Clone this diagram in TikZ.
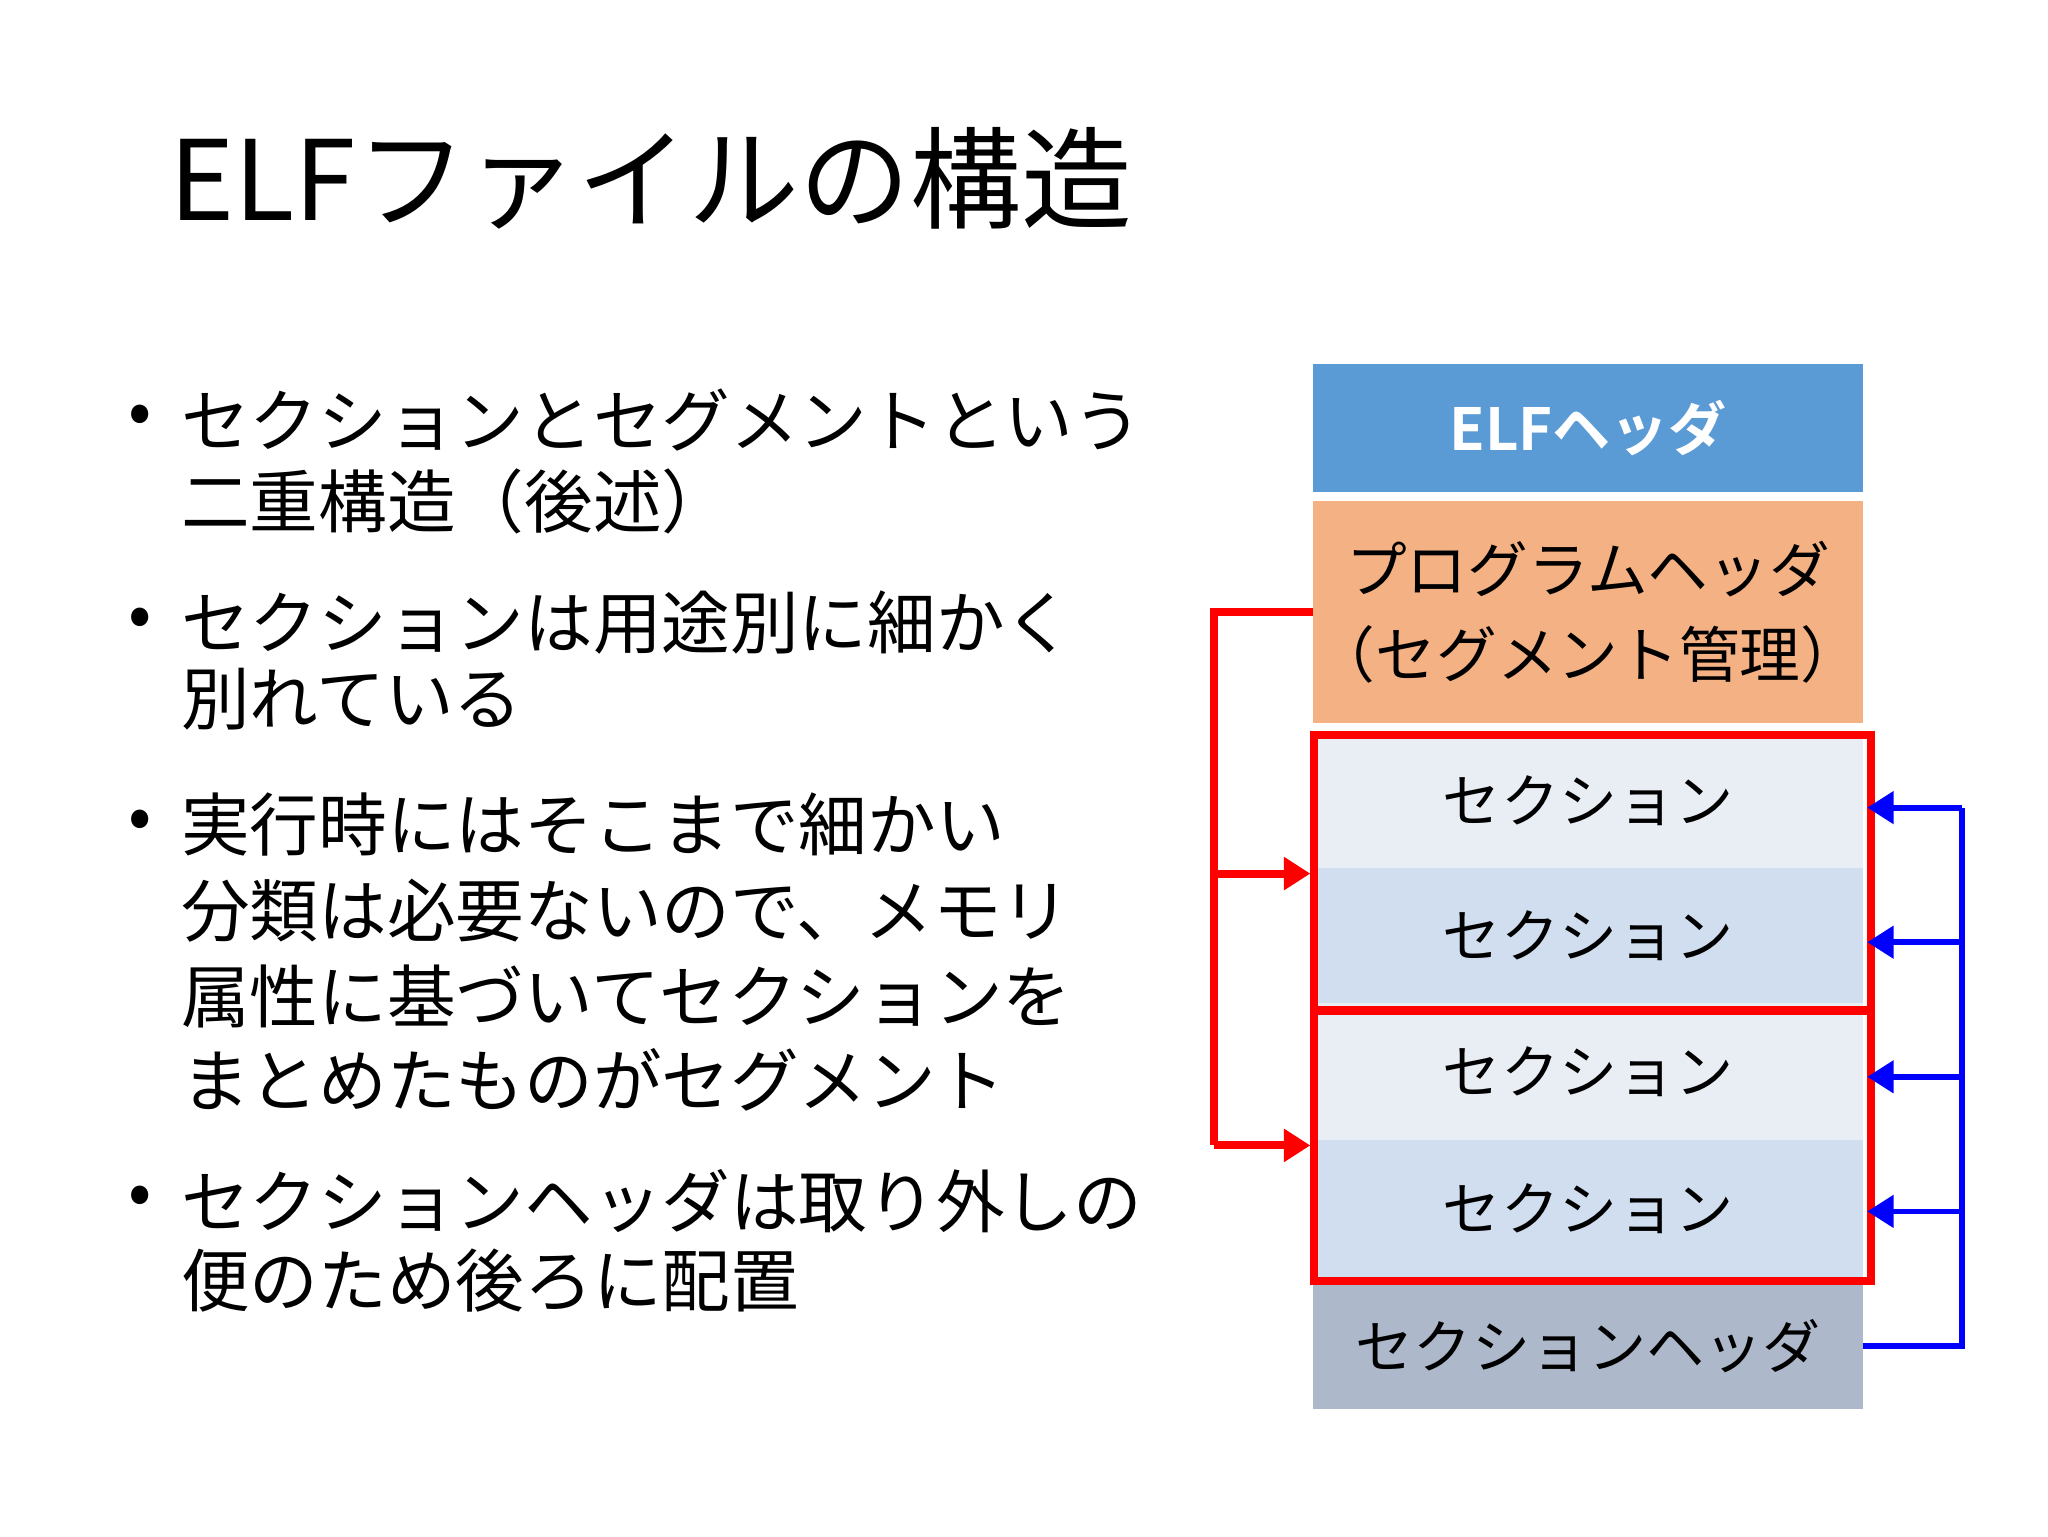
\documentclass[tikz,border=0pt]{standalone}
\usepackage{fontspec}
\setmainfont{Noto Sans CJK JP}
\newfontfamily\jpbold{Noto Sans CJK JP Bold}
\usetikzlibrary{arrows.meta}
\definecolor{hblue}{HTML}{5B9BD5}
\definecolor{horange}{HTML}{F4B183}
\definecolor{slight}{HTML}{E9EDF4}
\definecolor{sdark}{HTML}{D0DEEF}
\definecolor{shdr}{HTML}{ADB9CA}
\begin{document}
\begin{tikzpicture}[x=0.5pt,y=-0.5pt,
  blk/.style={anchor=north west,inner sep=0,outer sep=0,minimum width=208.5pt,font=\fontsize{22}{28}\selectfont},
  bl/.style={anchor=west,font=\fontsize{26}{32}\selectfont,inner sep=0},
  redl/.style={draw=red,line width=3pt},
  bluel/.style={draw=blue,line width=2.2pt},
  ra/.style={redl,-{Triangle[length=10pt,width=12pt]}},
  ba/.style={bluel,-{Triangle[length=10pt,width=12pt]}}]
\useasboundingbox (0,0) rectangle (1552,1164);
\node[anchor=west,inner sep=0,font=\fontsize{42}{46}\selectfont] (title) at (128,135) {ELFファイルの構造};
% bullets
\foreach \y/\t [count=\i] in {318/セクションとセグメントという,380/二重構造（後述）,472/セクションは用途別に細かく,530/別れている,625/実行時にはそこまで細かい,690/分類は必要ないので、メモリ,755/属性に基づいてセクションを,818/まとめたものがセグメント,910/セクションヘッダは取り外しの,970/便のため後ろに配置}
  \node[bl] (t\i) at (137,\y) {\t};
\foreach \y [count=\i] in {318,472,625,910}
  \node[bl] (b\i) at (97,\y) {•};
% boxes
\node[blk,fill=hblue,minimum height=48.5pt,text=white,font=\jpbold\fontsize{22}{28}\selectfont] (elf) at (995,276) {ELFヘッダ};
\node[blk,fill=horange,minimum height=84pt,align=center,font=\fontsize{23}{32}\selectfont] (ph) at (995,380) {プログラムヘッダ\\（セグメント管理）};
\node[blk,fill=slight,minimum height=51pt] (s1) at (995,556) {セクション};
\node[blk,fill=sdark,minimum height=51pt] (s2) at (995,658) {セクション};
\node[blk,fill=slight,minimum height=52pt] (s3) at (995,760) {セクション};
\node[blk,fill=sdark,minimum height=52pt] (s4) at (995,864) {セクション};
\node[blk,fill=shdr,minimum height=48pt,font=\fontsize{22}{28}\selectfont] (sh) at (995,972) {セクションヘッダ};
\node[draw=red,line width=3pt,anchor=north west,minimum width=211pt,minimum height=104.5pt,inner sep=0] (g1) at (993,554) {};
\node[draw=red,line width=3pt,anchor=north west,minimum width=211pt,minimum height=103pt,inner sep=0] (g2) at (993,762) {};
% red connectors
\coordinate (rt) at (920,464);
\coordinate (rm) at (920,662);
\coordinate (rb) at (920,868);
\draw[redl] (ph.west |- rt) -- (rt) -- (rb);
\draw[ra] (rm) -- (g1.west |- rm);
\draw[ra] (rb) -- (g2.west |- rb);
% blue connectors
\coordinate (bb) at (1487,1020);
\coordinate (bt) at (1487,612);
\draw[bluel] (sh.east |- bb) -- (bb) -- (bt);
\foreach \y in {612,714,816,918}
  \draw[ba] (1487,\y) -- (1415,\y);
\end{tikzpicture}
\end{document}
